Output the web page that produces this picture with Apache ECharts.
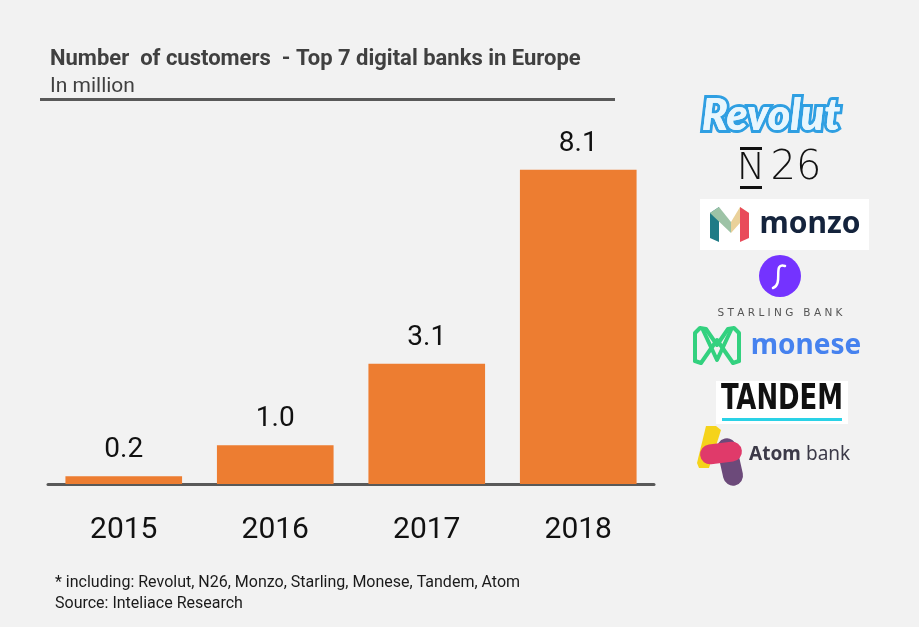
<!DOCTYPE html>
<html>
<head>
<meta charset="utf-8">
<script src="https://cdn.jsdelivr.net/npm/echarts@6/dist/echarts.min.js"></script>
<style>
html,body{margin:0;padding:0;background:#f2f2f2;}
#c{width:919px;height:627px;}
</style>
</head>
<body>
<div id="c"></div>
<script>
const years = ['2015', '2016', '2017', '2018'];
const customers = [0.2, 1.0, 3.1, 8.1];
const titleText = 'Number  of customers  - Top 7 digital banks in Europe';
const subtitleText = 'In million';
const footnote = '* including: Revolut, N26, Monzo, Starling, Monese, Tandem, Atom';
const sourceText = 'Source: Inteliace Research';

const FONT = 'Roboto, "Liberation Sans", sans-serif';
const chart = echarts.init(document.getElementById('c'), null, {renderer: 'canvas'});

const logos = [
  // Revolut
  {type:'text', style:{text:'Revolut', x:771, y:116, align:'center', verticalAlign:'middle',
    font:'italic 900 43px Lato, "Open Sans", sans-serif', fill:'#e4f5fd', stroke:'#2f9fe2', lineWidth:6, lineJoin:'round'}},
  {type:'text', style:{text:'Revolut', x:771, y:116, align:'center', verticalAlign:'middle',
    font:'italic 900 43px Lato, "Open Sans", sans-serif', fill:'#e8f6fd'}},
  // N26
  {type:'rect', shape:{x:740, y:147, width:22, height:3}, style:{fill:'#111'}},
  {type:'rect', shape:{x:740, y:186, width:22, height:3}, style:{fill:'#111'}},
  {type:'text', style:{text:'N', x:751, y:169, align:'center', verticalAlign:'middle',
    font:'300 38px "DejaVu Sans", sans-serif', fill:'#111'}},
  {type:'text', style:{text:'26', x:796, y:169, align:'center', verticalAlign:'middle',
    font:'300 40px "DejaVu Sans", sans-serif', fill:'#111'}},
  // monzo
  {type:'rect', shape:{x:700, y:199, width:169, height:51}, style:{fill:'#ffffff'}},
  {type:'polygon', shape:{points:[[710,213],[719,207],[719,242],[710,238]]}, style:{fill:'#1f7b86'}},
  {type:'polygon', shape:{points:[[710,213],[719,207],[731,222],[731,233]]}, style:{fill:'#9dc3a6'}},
  {type:'polygon', shape:{points:[[731,222],[740,207],[749,213],[731,233]]}, style:{fill:'#ead19a'}},
  {type:'polygon', shape:{points:[[740,207],[749,213],[749,238],[740,242]]}, style:{fill:'#e94b5a'}},
  {type:'text', style:{text:'monzo', x:810, y:224, align:'center', verticalAlign:'middle',
    font:'bold 30px "Noto Sans", "Open Sans", sans-serif', fill:'#14233c'}},
  // Starling
  {type:'circle', shape:{cx:780, cy:276, r:21}, style:{fill:'#7433ff'}},
  {type:'bezierCurve', shape:{x1:785, y1:266, cpx1:772, cpy1:262, cpx2:784, cpy2:284, x2:773, y2:288},
    style:{stroke:'#ffffff', lineWidth:2.5, fill:null, lineCap:'round'}},
  {type:'text', style:{text:'S T A R L I N G   B A N K', x:780, y:313, align:'center', verticalAlign:'middle',
    font:'10.5px "DejaVu Sans", sans-serif', fill:'#555555'}},
  // monese
  {type:'polyline', shape:{points:[[695,361],[695,333],[700,328],[706,329],[717,345],[728,329],[734,328],[739,333],[739,361]]},
    style:{stroke:'#33d17f', lineWidth:4, fill:null, lineJoin:'round', lineCap:'round'}},
  {type:'polyline', shape:{points:[[695,361],[701,363],[717,340],[733,363],[739,361]]},
    style:{stroke:'#33d17f', lineWidth:4, fill:null, lineJoin:'round', lineCap:'round'}},
  {type:'polyline', shape:{points:[[703,330],[717,360],[731,330]]},
    style:{stroke:'#33d17f', lineWidth:4, fill:null, lineJoin:'round', lineCap:'round'}},
  {type:'text', style:{text:'monese', x:806, y:346, align:'center', verticalAlign:'middle',
    font:'bold 28px "Noto Sans", "Open Sans", sans-serif', fill:'#4682ef'}},
  // TANDEM
  {type:'rect', shape:{x:716, y:381, width:132, height:43}, style:{fill:'#ffffff'}},
  {type:'text', x:782, y:400, scaleX:0.8, style:{text:'TANDEM', x:0, y:0, align:'center', verticalAlign:'middle',
    font:'bold 36px "DejaVu Sans Condensed", "Liberation Sans Narrow", sans-serif', fill:'#111'}},
  {type:'rect', shape:{x:722, y:418, width:120, height:3}, style:{fill:'#2ad2e6'}},
  // Atom bank
  {type:'polygon', shape:{points:[[706,426],[716,426],[721,430],[709,468],[699,468],[697,463]]}, style:{fill:'#f5d31b'}},
  {type:'rect', shape:{x:720, y:438, width:20, height:48, r:10}, rotation:0.22, originX:730, originY:462, style:{fill:'#6c4a7a'}},
  {type:'rect', shape:{x:700, y:443, width:42, height:20, r:10}, rotation:0.12, originX:721, originY:453, style:{fill:'#e03a6a'}},
  {type:'text', style:{text:'Atom', x:749, y:455, align:'left', verticalAlign:'middle',
    font:'bold 19px "Noto Sans", "Open Sans", sans-serif', fill:'#3c3a48'}},
  {type:'text', style:{text:'bank', x:806, y:455, align:'left', verticalAlign:'middle',
    font:'19px "Noto Sans", "Open Sans", sans-serif', fill:'#3c3a48'}}
];

const option = {
  backgroundColor: '#f2f2f2',
  animation: false,
  title: {
    text: titleText,
    subtext: subtitleText,
    left: 45, top: 43,
    itemGap: 6,
    textStyle: {fontFamily: FONT, fontSize: 22, fontWeight: 'bold', color: '#404040'},
    subtextStyle: {fontFamily: FONT, fontSize: 21, color: '#404040'}
  },
  grid: {left: 48, right: 265, top: 96, bottom: 143, containLabel: false},
  xAxis: {
    type: 'category',
    data: years,
    axisLine: {lineStyle: {color: '#595959', width: 3}},
    axisTick: {show: false},
    axisLabel: {fontFamily: FONT, fontSize: 30, color: '#111111', margin: 31}
  },
  yAxis: {
    type: 'value', min: 0, max: 10,
    show: false,
    splitLine: {show: false}
  },
  series: [{
    type: 'bar',
    data: customers,
    barCategoryGap: '23%',
    itemStyle: {color: '#ed7d31'},
    label: {
      show: true, position: 'top', distance: 12,
      fontFamily: FONT, fontSize: 28, color: '#111111',
      formatter: p => p.value.toFixed(1)
    }
  }],
  graphic: [
    {type:'rect', shape:{x:40, y:98, width:575, height:3}, style:{fill:'#595959'}},
    {type:'text', style:{text: footnote, x:55, y:583, verticalAlign:'middle', font:'16px ' + FONT, fill:'#1a1a1a'}},
    {type:'text', style:{text: sourceText, x:55, y:604, verticalAlign:'middle', font:'16px ' + FONT, fill:'#1a1a1a'}}
  ].concat(logos)
};
chart.setOption(option);
</script>
</body>
</html>
